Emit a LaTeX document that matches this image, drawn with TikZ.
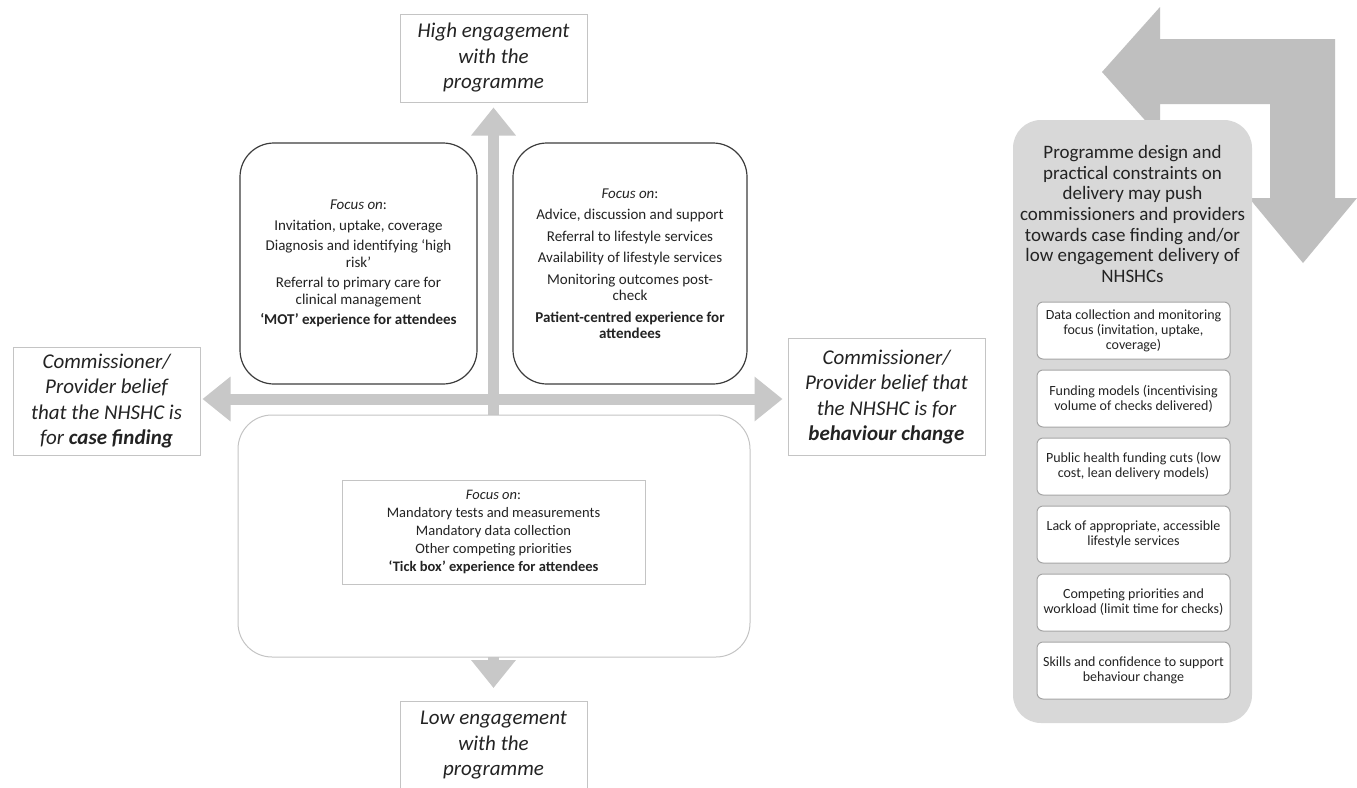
\documentclass[tikz,border=0pt]{standalone}
\usepackage{fontspec}
\setmainfont{Carlito}
\usetikzlibrary{arrows.meta,positioning}

\definecolor{axisgrey}{RGB}{200,200,200}
\definecolor{bendgrey}{RGB}{191,191,191}
\definecolor{panelgrey}{RGB}{216,216,216}
\definecolor{lightline}{RGB}{196,196,196}
\definecolor{darkline}{RGB}{60,60,60}
\definecolor{boxline}{RGB}{165,165,165}
\definecolor{inkgrey}{RGB}{35,35,35}

\tikzset{
    axislabel/.style={draw=lightline, line width=1pt, fill=white, align=center, text=inkgrey,
        font=\fontsize{21}{25.5}\selectfont\itshape, inner sep=0pt},
    axisarrow/.style={draw=axisgrey, line width=11pt, >={Triangle[width=43pt,length=28pt]}, <->},
    quadrant/.style={draw=darkline, line width=1.2pt, fill=white, rounded corners=34pt, align=center,
        text=inkgrey, font=\fontsize{15}{16.5}\selectfont, inner sep=0pt},
    lowquadrant/.style={draw=lightline, line width=1pt, fill=white, rounded corners=34pt},
    focusbox/.style={draw=lightline, line width=1pt, fill=white, align=center, text=inkgrey,
        font=\fontsize{14.5}{18}\selectfont, inner sep=0pt},
    panel/.style={fill=panelgrey, rounded corners=28pt},
    paneltext/.style={align=center, text=inkgrey, font=\fontsize{19}{20.7}\selectfont, inner sep=0pt},
    constraint/.style={draw=boxline, line width=1pt, fill=white, rounded corners=6pt, align=center,
        text=inkgrey, font=\fontsize{14}{15}\selectfont, minimum width=193pt, minimum height=57pt, inner sep=0pt}
}

\begin{document}
\begin{tikzpicture}[x=1pt,y=-1pt]
    % Definitions:
    \useasboundingbox (0,0) rectangle (1357,787);
    \fill[white] (0,0) rectangle (1357,787);
    \coordinate (axismid) at (493.5,399);
    % Axis labels:
    \node[axislabel, minimum width=187pt, minimum height=88pt] (high) at (493.5,58) {High engagement\\with the\\programme};
    \node[axislabel, minimum width=187pt, minimum height=88pt, anchor=north] (low) at (493.5,701) {Low engagement\\with the\\programme};
    \node[axislabel, minimum width=187pt, minimum height=108pt] (casebox) at (106.5,401) {Commissioner/\\Provider belief\\that the NHSHC is\\for \textbf{case finding}};
    \node[axislabel, minimum width=197pt, minimum height=117pt] (behbox) at (886.5,397) {Commissioner/\\Provider belief that\\the NHSHC is for\\\textbf{behaviour change}};
    % Axes:
    \draw[axisarrow, shorten <=5pt, shorten >=13pt] (high.south) -- (low.north);
    \draw[axisarrow, shorten <=2pt, shorten >=5pt] (axismid -| casebox.east) -- (axismid -| behbox.west);
    % Quadrants:
    \node[quadrant, minimum width=237pt, minimum height=241pt] (mot) at (358.5,263.5) {\textit{Focus on}:\\[4pt]
        Invitation, uptake, coverage\\[4pt]
        Diagnosis and identifying ‘high\\risk’\\[4pt]
        Referral to primary care for\\clinical management\\[4pt]
        \textbf{‘MOT’ experience for attendees}};
    \node[quadrant, minimum width=234pt, minimum height=241pt] (patient) at (630,263.5) {\textit{Focus on}:\\[5pt]
        Advice, discussion and support\\[5pt]
        Referral to lifestyle services\\[5pt]
        Availability of lifestyle services\\[5pt]
        Monitoring outcomes post-\\check\\[5pt]
        \textbf{Patient-centred experience for}\\\textbf{attendees}};
    \node[lowquadrant, minimum width=512pt, minimum height=242pt] (tick) at (494,536) {};
    \node[focusbox, minimum width=303pt, minimum height=104pt] (tickfocus) at (493.5,532) {\textit{Focus on}:\\
        Mandatory tests and measurements\\
        Mandatory data collection\\
        Other competing priorities\\
        \textbf{‘Tick box’ experience for attendees}};
    % Pressures:
    \fill[bendgrey] (1102,72) -- (1160,7) -- (1160,39) -- (1335,39) -- (1335,198) -- (1357,198)
        -- (1303,263) -- (1249,198) -- (1270,198) -- (1270,104) -- (1160,104) -- (1160,137) -- cycle;
    \node[panel, minimum width=239pt, minimum height=603pt] (panel) at (1132.5,421.5) {};
    \node[paneltext] (push) at (1132.5,214) {Programme design and\\practical constraints on\\delivery may push\\commissioners and providers\\towards case finding and/or\\low engagement delivery of\\NHSHCs};
    \node[constraint] (c1) at (1133.5,330.5) {Data collection and monitoring\\focus (invitation, uptake,\\coverage)};
    \node[constraint, below=10pt of c1] (c2) {Funding models (incentivising\\volume of checks delivered)};
    \node[constraint, below=10pt of c2] (c3) {Public health funding cuts (low\\cost, lean delivery models)};
    \node[constraint, below=10pt of c3] (c4) {Lack of appropriate, accessible\\lifestyle services};
    \node[constraint, below=10pt of c4] (c5) {Competing priorities and\\workload (limit time for checks)};
    \node[constraint, below=10pt of c5] (c6) {Skills and confidence to support\\behaviour change};
\end{tikzpicture}
\end{document}
